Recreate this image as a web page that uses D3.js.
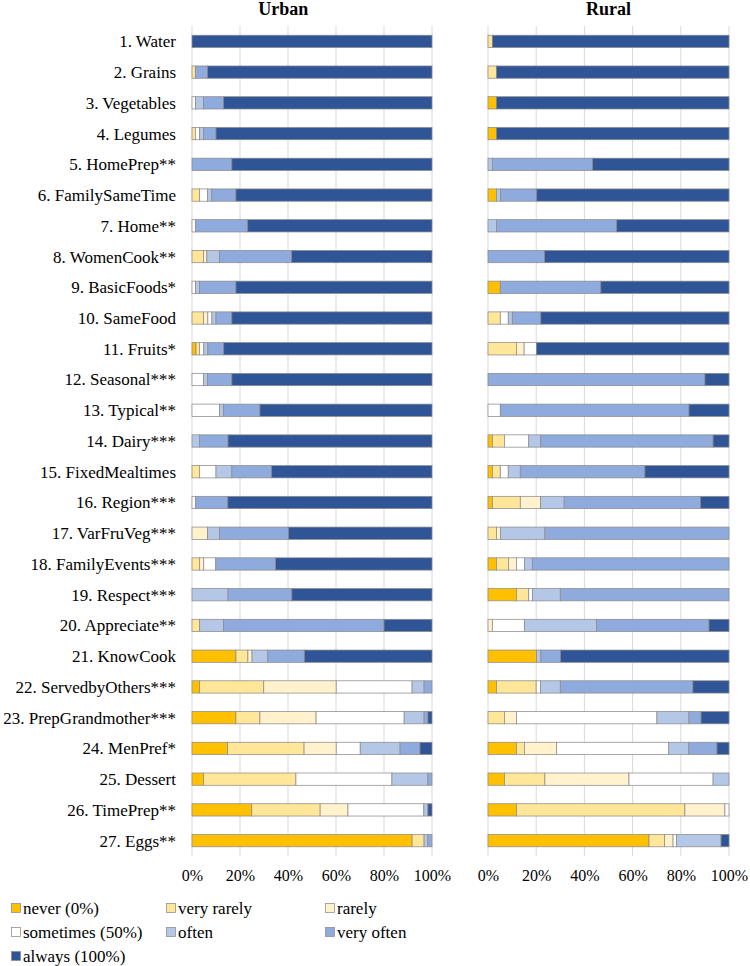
<!DOCTYPE html>
<html><head><meta charset="utf-8">
<script src="https://cdn.jsdelivr.net/npm/d3@7"></script>
<style>body{margin:0;background:#fff}svg{display:block}</style>
</head><body><svg id="c" width="750" height="966"></svg>
<script>
const categories = ["1. Water","2. Grains","3. Vegetables","4. Legumes","5. HomePrep**","6. FamilySameTime","7. Home**","8. WomenCook**","9. BasicFoods*","10. SameFood","11. Fruits*","12. Seasonal***","13. Typical**","14. Dairy***","15. FixedMealtimes","16. Region***","17. VarFruVeg***","18. FamilyEvents***","19. Respect***","20. Appreciate**","21. KnowCook","22. ServedbyOthers***","23. PrepGrandmother***","24. MenPref*","25. Dessert","26. TimePrep**","27. Eggs**"];
const levels = ["never (0%)","very rarely","rarely","sometimes (50%)","often","very often","always (100%)"];
const colors = ["#FFC000","#FFE699","#FFF2CC","#FFFFFF","#B4C7E7","#8FAADC","#2F5597"];
const panels = ["Urban","Rural"];
const tickValues = [0,20,40,60,80,100];
// each row: [never, very rarely, rarely, sometimes, often, very often, always]
const urban = [
 [0,0,0,0,0,0,100],
 [0,1.4,0,0,0,5.1,93.5],
 [0,0,0,1.5,3.3,8.3,86.9],
 [0,1.4,0,1.8,1.7,5.1,90.0],
 [0,0,0,0,0,16.6,83.4],
 [0,3.2,0,3.3,1.8,10.0,81.7],
 [0,0,0,1.5,0,21.7,76.8],
 [0,4.8,1.4,0,5.3,30.0,58.5],
 [0,0,0,1.5,1.7,15.1,81.7],
 [0,4.8,1.8,1.7,1.7,6.6,83.4],
 [1.7,1.5,0,1.7,1.7,6.6,86.8],
 [0,0,0,4.8,1.7,10.1,83.4],
 [0,0,0,11.5,1.7,15.1,71.7],
 [0,0,0,0,3.2,11.8,85.0],
 [0,3.2,0,6.8,6.6,16.6,66.8],
 [0,0,0,1.5,0,13.4,85.1],
 [0,0,6.5,0,5.0,28.7,59.8],
 [0,3.2,1.7,5.0,0,24.9,65.2],
 [0,0,0,0,15.0,26.6,58.4],
 [0,3.2,0,0,10.0,66.8,20.0],
 [18.3,5.0,1.7,0,6.6,15.2,53.2],
 [3.2,26.7,30.2,31.6,5.0,3.3,0],
 [18.3,10.0,23.4,36.7,8.3,1.6,1.7],
 [14.8,31.9,13.4,10.0,16.6,8.3,5.0],
 [4.8,38.5,0,40.0,15.0,1.7,0],
 [24.9,28.5,11.6,31.6,1.7,0,1.7],
 [91.7,5.0,0,0,1.6,1.7,0]
];
const rural = [
 [0,1.8,0,0,0,0,98.2],
 [0,3.5,0,0,0,0,96.5],
 [3.5,0,0,0,0,0,96.5],
 [3.5,0,0,0,0,0,96.5],
 [0,0,0,0,1.8,41.6,56.6],
 [3.5,0,0,0,1.7,15.0,79.8],
 [0,0,0,0,3.5,49.9,46.6],
 [0,0,0,0,0,23.5,76.5],
 [5.1,0,0,0,0,41.7,53.2],
 [0,5.1,0,3.3,1.7,11.8,78.1],
 [0,11.8,3.2,5.1,0,0,79.9],
 [0,0,0,0,0,90.0,10.0],
 [0,0,0,5.1,0,78.3,16.6],
 [1.8,5.0,0,10.1,5.0,71.5,6.6],
 [1.8,3.3,0,3.3,5.0,51.7,34.9],
 [1.8,11.6,8.4,0,9.8,56.6,11.8],
 [0,3.5,1.7,0,18.4,76.4,0],
 [3.5,5.0,3.3,3.3,3.3,81.6,0],
 [11.8,5.1,0,1.5,11.6,70.0,0],
 [0,0,1.8,13.3,29.9,46.7,8.3],
 [20.1,0,0,0,1.8,8.2,69.9],
 [3.5,16.5,0,1.8,8.2,55.0,15.0],
 [0,6.8,5.0,58.3,13.3,5.0,11.6],
 [11.8,3.3,13.4,46.5,8.3,11.7,5.0],
 [6.8,16.8,34.9,34.9,6.6,0,0],
 [11.8,69.9,16.6,1.7,0,0,0],
 [66.8,6.5,3.5,1.4,18.5,0,3.3]
];

const FONT = '"Liberation Serif","Times New Roman",serif';
const svg = d3.select("#c");
const y = d3.scaleBand().domain(categories).range([26,856]).paddingInner(0.6).paddingOuter(0.3);
const xs = [d3.scaleLinear().domain([0,100]).range([192,432]), d3.scaleLinear().domain([0,100]).range([488,729])];
const datasets = [urban, rural];
const titleAt = [38, 50]; // title centre, as a percent position on each panel's scale

datasets.forEach((data, p) => {
  const x = xs[p];
  const g = svg.append("g");
  g.selectAll("line.grid").data(tickValues).join("line")
    .attr("x1", d => x(d)).attr("x2", d => x(d)).attr("y1", 26).attr("y2", 856)
    .attr("stroke", "#d9d9d9").attr("stroke-width", 1);
  const rows = data.map((vals, i) => {
    const obj = {cat: categories[i]};
    levels.forEach((l, j) => obj[l] = vals[j]);
    return obj;
  });
  const stack = d3.stack().keys(levels)(rows);
  stack.forEach((layer, li) => {
    g.selectAll(null).data(layer.filter(d => d[1] - d[0] > 0)).join("rect")
      .attr("x", d => x(d[0])).attr("width", d => x(d[1]) - x(d[0]))
      .attr("y", d => y(d.data.cat)).attr("height", y.bandwidth())
      .attr("fill", colors[li]).attr("stroke", "#8c8c8c").attr("stroke-width", 0.75);
  });
  const ax = g.append("g").attr("transform", "translate(0,856)")
    .call(d3.axisBottom(x).tickValues(tickValues).tickFormat(d => d + "%").tickSize(0).tickPadding(14));
  ax.select(".domain").remove();
  ax.attr("font-family", FONT).attr("font-size", 16);
  ax.selectAll("text").attr("fill", "#000").attr("dy", "0.71em");
  g.append("text").attr("x", x(titleAt[p])).attr("y", 15).attr("text-anchor", "middle")
    .attr("font-family", FONT).attr("font-size", 18).attr("font-weight", "bold").text(panels[p]);
});

svg.append("g").selectAll("text").data(categories).join("text")
  .attr("x", 176).attr("y", d => y(d) + y.bandwidth() / 2).attr("dy", "0.35em")
  .attr("text-anchor", "end").attr("font-family", FONT).attr("font-size", 17).text(d => d);

const lg = svg.append("g");
levels.forEach((l, i) => {
  const col = i % 3, row = Math.floor(i / 3);
  const lx = [11, 166, 325][col], ly = 908 + row * 24;
  lg.append("rect").attr("x", lx + 0.5).attr("y", ly - 4.5).attr("width", 9).attr("height", 9)
    .attr("fill", colors[i]).attr("stroke", "#8c8c8c").attr("stroke-width", 0.75);
  lg.append("text").attr("x", lx + 12).attr("y", ly).attr("dy", "0.35em")
    .attr("font-family", FONT).attr("font-size", 17).text(l);
});
</script></body></html>
